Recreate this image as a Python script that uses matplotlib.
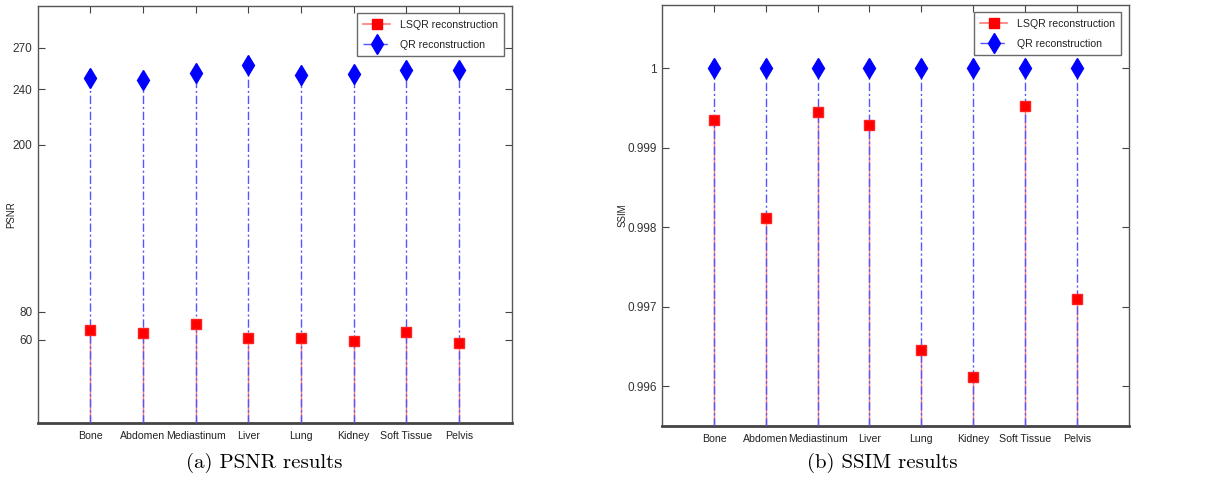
import matplotlib
matplotlib.use("Agg")
import matplotlib.pyplot as plt
from matplotlib.legend_handler import HandlerLine2D
from matplotlib.lines import Line2D
import numpy as np

categories = ["Bone", "Abdomen", "Mediastinum", "Liver", "Lung", "Kidney", "Soft Tissue", "Pelvis"]
psnr_lsqr = [66.5, 65.0, 71.3, 61.2, 61.2, 58.6, 65.5, 57.8]
psnr_qr = [248.4, 247.0, 251.5, 257.8, 250.6, 251.0, 253.7, 253.7]
ssim_lsqr = [0.99935, 0.99811, 0.99945, 0.99929, 0.99646, 0.99612, 0.99953, 0.99710]
ssim_qr = [1.0, 1.0, 1.0, 1.0, 1.0, 1.0, 1.0, 1.0]
psnr_ticks = [60, 80, 200, 240, 270]
ssim_ticks = [0.996, 0.997, 0.998, 0.999, 1.0]
ssim_ticklabels = ["0.996", "0.997", "0.998", "0.999", "1"]

plt.rcParams["font.family"] = ["Liberation Sans", "DejaVu Sans"]


class HandlerEndMarker(HandlerLine2D):
    def get_xdata(self, legend, xdescent, ydescent, width, height, fontsize):
        xdata = np.array([-xdescent, -xdescent + width])
        return xdata, np.array([-xdescent + width * 0.9])


fig = plt.figure(figsize=(12.24, 4.8), dpi=100)
ax1 = fig.add_axes([0.0308, 0.119, 0.3872, 0.8685])
ax2 = fig.add_axes([0.541, 0.113, 0.381, 0.877])

DASHDOT = (0, (6, 2, 1.5, 2))


def draw(ax, lsqr, qr, ylim, ticks, ticklabels, ylabel):
    x = np.arange(1, len(categories) + 1)
    base = ylim[0]
    ax.vlines(x, base, lsqr, colors="#ff7a7a", linestyles="-", linewidth=1.0, zorder=2)
    ax.vlines(x, base, qr, colors="#5555ff", linestyles=DASHDOT, linewidth=1.0, zorder=3)
    ax.plot(x, lsqr, linestyle="none", marker="s", markersize=6.8,
            markerfacecolor="#ff0000", markeredgecolor="#ff2020", zorder=4)
    ax.plot(x, qr, linestyle="none", marker="d", markersize=10.5,
            markerfacecolor="#0000ff", markeredgecolor="#0000ff", zorder=4)
    h1 = Line2D([], [], color="#ff7a7a", linestyle="-", marker="s", linewidth=1.2,
                markersize=6.8, markerfacecolor="#ff0000", markeredgecolor="#ff0000")
    h2 = Line2D([], [], color="#5555ff", linestyle=DASHDOT, marker="d", linewidth=1.0,
                markersize=10.5, markerfacecolor="#0000ff", markeredgecolor="#0000ff")
    leg = ax.legend([h1, h2], ["LSQR reconstruction", "QR reconstruction"], loc="upper right",
                    fontsize=7.6, frameon=True, fancybox=False, handlelength=2.6, numpoints=1,
                    borderaxespad=0.7, borderpad=0.6, labelspacing=0.95, handletextpad=0.9,
                    handler_map={h1: HandlerEndMarker(), h2: HandlerEndMarker()})
    leg.get_frame().set_edgecolor("#444444")
    leg.get_frame().set_linewidth(1.0)
    for t in leg.get_texts():
        t.set_color("#222222")
    ax.set_xlim(0, 9)
    ax.set_ylim(*ylim)
    ax.set_xticks(x)
    ax.set_xticklabels(categories, fontsize=7.6, color="#222222")
    ax.set_yticks(ticks)
    ax.set_yticklabels(ticklabels, fontsize=8.5, color="#333333")
    ax.tick_params(direction="in", length=5, width=0.8, color="#444444",
                   top=True, right=True, bottom=True, left=True, pad=4)
    ax.tick_params(axis="x", pad=6)
    for s in ax.spines.values():
        s.set_color("#555555")
        s.set_linewidth(1.0)
    ax.spines["bottom"].set_linewidth(2.0)
    ax.spines["bottom"].set_color("#444444")
    ax.set_ylabel(ylabel, fontsize=7, color="#222222")


draw(ax1, psnr_lsqr, psnr_qr, (0, 300), psnr_ticks, [str(t) for t in psnr_ticks], "PSNR")
draw(ax2, ssim_lsqr, ssim_qr, (0.9955, 1.0008), ssim_ticks, ssim_ticklabels, "SSIM")
ax1.yaxis.set_label_coords(-0.045, 0.5)
ax2.yaxis.set_label_coords(-0.075, 0.5)

fig.text(264 / 1224, 1 - 463 / 480, "(a) PSNR results", family=["cmr10", "DejaVu Serif"],
         fontsize=15, ha="center", va="center")
fig.text(882 / 1224, 1 - 463 / 480, "(b) SSIM results", family=["cmr10", "DejaVu Serif"],
         fontsize=15, ha="center", va="center")

fig.savefig("out.png", dpi=100)
